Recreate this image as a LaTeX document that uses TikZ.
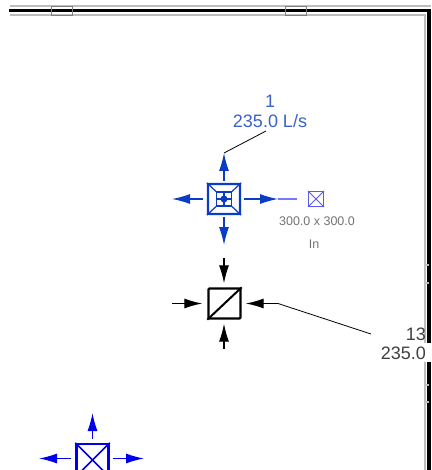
\documentclass[tikz,border=0pt]{standalone}
\usepackage{fontspec}
\setmainfont{Liberation Sans}
\usetikzlibrary{arrows.meta}
\usetikzlibrary{positioning}

\definecolor{ductblue}{HTML}{0B3CC4}
\definecolor{labelblue}{HTML}{3A62C8}
\definecolor{lowblue}{HTML}{0000EE}
\definecolor{tagblue}{HTML}{5A5AF0}
\definecolor{taglight}{HTML}{7878FF}
\definecolor{wallgrey}{HTML}{BDBDBD}

\tikzset{
  wall/.style={line width=3.6pt},
  wallline/.style={wallgrey,line width=1.2pt},
  winmark/.style={draw=gray,line width=0.9pt,minimum width=21pt,minimum height=9pt,inner sep=0pt},
  terminal/.style={draw,line width=2.4pt,rounded corners=1pt,minimum width=32pt,minimum height=30pt,inner sep=0pt},
  flow/.style={line width=1.2pt,-{Latex[length=18pt,width=10pt]}},
  leader/.style={black,line width=0.8pt},
  bluelabel/.style={labelblue,font=\fontsize{18}{18}\selectfont,inner sep=0pt},
  blacklabel/.style={black!75,font=\fontsize{18}{18}\selectfont,inner sep=0pt,anchor=east},
  greylabel/.style={black!55,font=\fontsize{12.5}{12.5}\selectfont,inner sep=0pt}
}

\begin{document}
\begin{tikzpicture}[x=1pt,y=-1pt]
\clip (0,0) rectangle (431,470);
\fill[white] (0,0) rectangle (431,470);
% walls
\draw[wallline] (10,6) -- (431,6);
\draw[wallline] (10,15) -- (425,15) -- (425,343);
\draw[wallline] (425,362) -- (425,470);
\draw[wall] (9,10.5) -| (429,343);
\draw[wall] (429,362) -- (429,470);
\node[winmark] (win1) at (61.5,10.5) {};
\node[winmark] (win2) at (296,10.5) {};
\draw[wallline] (425,265) -- (429,265);
\draw[wallline] (425,283) -- (429,283);
\draw[wallline] (425,385) -- (429,385);
\draw[wallline] (425,402) -- (429,402);

% supply terminal
\node[terminal,draw=ductblue] (sup) at (224,199) {};
\node[draw=ductblue,line width=1.2pt,minimum width=15pt,minimum height=14pt,inner sep=0pt] (supin) at (sup) {};
\draw[ductblue,line width=1.2pt] (sup.north west) -- (supin.north west);
\draw[ductblue,line width=1.2pt] (sup.north east) -- (supin.north east);
\draw[ductblue,line width=1.2pt] (sup.south west) -- (supin.south west);
\draw[ductblue,line width=1.2pt] (sup.south east) -- (supin.south east);
\draw[ductblue,line width=1.2pt] (supin.north) -- (supin.south);
\draw[ductblue,line width=1.2pt] (supin.west) -- (supin.east);
\node[circle,fill=ductblue,minimum size=7pt,inner sep=0pt] (supdot) at (sup) {};
\coordinate (supn) at (224,153);
\coordinate (supw) at (172,199);
\coordinate (supe) at (278,199);
\coordinate (sups) at (224,245);
\draw[flow,ductblue] ([yshift=2pt]sup.north) -- (supn);
\draw[flow,ductblue] ([xshift=-4pt]sup.west) -- (supw);
\draw[flow,ductblue] ([xshift=3pt]sup.east) -- (supe);
\draw[flow,ductblue] ([yshift=-2pt]sup.south) -- (sups);

% tag on the right of it
\node[draw=tagblue,line width=1pt,minimum size=15pt,inner sep=0pt] (tag) at (316,199) {};
\draw[tagblue,line width=0.8pt] (tag.north west) -- (tag.south east);
\draw[tagblue,line width=0.8pt] (tag.north east) -- (tag.south west);
\coordinate (tagl) at (297,199);
\draw[taglight,line width=1.2pt] (supe) -- (tagl);
\node[greylabel] (size) at (317,221) {300.0 x 300.0};
\node[greylabel] (inl) at (314,244) {In};

\node[bluelabel] (num1) at (270,101) {1};
\node[bluelabel] (flow1) at (270,121) {235.0 L/s};
\coordinate (lead1) at (266,131);
\draw[leader] (lead1) -- (supn);

% return terminal
\node[terminal,draw=black] (ret) at (224.5,303.5) {};
\draw[line width=2pt] (ret.south west) -- (ret.north east);
\coordinate (retn) at (224,258);
\coordinate (retw) at (172,303.5);
\coordinate (rete) at (278,303.5);
\coordinate (rets) at (224,349);
\draw[flow] (retn) -- ([xshift=-0.5pt,yshift=4pt]ret.north);
\draw[flow] (retw) -- ([xshift=-5pt]ret.west);
\draw[flow] (rete) -- ([xshift=4pt]ret.east);
\draw[flow] (rets) -- ([xshift=-0.5pt,yshift=-4pt]ret.south);

\node[blacklabel] (num2) at (426,334) {13};
\node[blacklabel] (flow2) at (426,353) {235.0};
\coordinate (lead2) at (371,334);
\draw[leader] (rete) -- (lead2);

% lower left terminal
\node[terminal,draw=lowblue,rounded corners=0pt,minimum height=32pt] (low) at (92.5,460) {};
\draw[lowblue,line width=1.6pt] (low.north west) -- (low.south east);
\draw[lowblue,line width=1.6pt] (low.north east) -- (low.south west);
\coordinate (lown) at (92.5,413);
\coordinate (loww) at (39,458.5);
\coordinate (lowe) at (144,458.5);
\draw[flow,lowblue] ([yshift=4pt]low.north) -- (lown);
\draw[flow,lowblue] ([xshift=-4pt,yshift=1.5pt]low.west) -- (loww);
\draw[flow,lowblue] ([xshift=3pt,yshift=1.5pt]low.east) -- (lowe);
\end{tikzpicture}
\end{document}
